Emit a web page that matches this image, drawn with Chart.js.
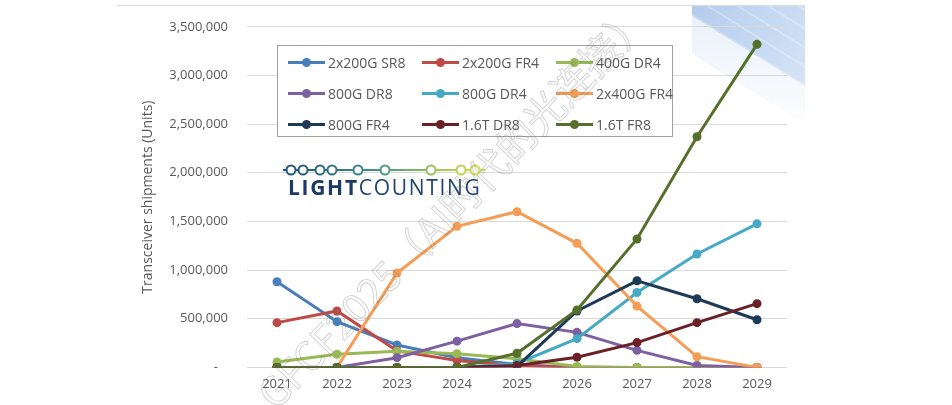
<!DOCTYPE html>
<html>
<head>
<meta charset="utf-8">
<script src="https://cdn.jsdelivr.net/npm/chart.js@4.4.1/dist/chart.umd.min.js"></script>
<style>
  html, body { margin: 0; padding: 0; background: #fff; }
  #wrap { position: relative; width: 952px; height: 405px; overflow: hidden; font-family: "Open Sans", sans-serif; }
  #chart { position: absolute; left: 0; top: 0; }
  .topline { position: absolute; left: 117px; top: 5px; width: 688px; height: 0; border-top: 1px solid #dcdcdc; }
  .product { position: absolute; left: 690px; top: 6px; width: 115px; height: 82px;
    clip-path: polygon(2px 0, 115px 0, 115px 80px, 2px 10px);
    background:
      repeating-linear-gradient(32deg, rgba(255,255,255,0) 0 14px, rgba(255,255,255,0.25) 14px 16px),
      linear-gradient(122deg, #b3cbeb 0%, #c3d7f1 45%, #d5e3f6 100%); }
  .shade { position: absolute; left: 690px; top: 14px; width: 115px; height: 110px;
    clip-path: polygon(2px 0, 115px 70px, 115px 110px, 2px 40px);
    background: linear-gradient(180deg, rgba(225,235,247,0.7), rgba(245,249,253,0.3)); }
  #legend { position: absolute; left: 277px; top: 45px; width: 396px; height: 92px; border: 1px solid #a0a0a0; background: #fff;
    display: grid; grid-template-columns: 134px 134px 128px; grid-auto-rows: 31px; padding: 1px 0 0 10px; box-sizing: border-box; }
  .li { display: flex; align-items: center; font-size: 14px; color: #595959; white-space: nowrap; }
  .mk { position: relative; width: 37px; height: 3px; margin-right: 3px; }
  .mk i { position: absolute; left: 14px; top: -3px; width: 9px; height: 9px; border-radius: 50%; }
  #logo { position: absolute; left: 281px; top: 161px; }
  #logo svg { position: absolute; left: 0; top: 0; }
  #logo .word { position: absolute; left: 7px; top: 12px; font-size: 21px; letter-spacing: 1.7px; color: #1f4470; white-space: nowrap; }
  #logo .word b { font-weight: 700; color: #1b3a66; }
  #wm { position: absolute; left: 452px; top: 205px; transform: translate(-50%, -50%) rotate(-46deg);
    font-family: "Noto Sans CJK SC", sans-serif; font-size: 40px; white-space: nowrap; color: transparent;
    -webkit-text-stroke: 1px rgba(110,110,110,0.3); }
</style>
</head>
<body>
<div id="wrap">
  <div class="topline"></div>
  <div class="shade"></div>
  <div class="product"></div>
  <canvas id="chart" width="952" height="405"></canvas>
  <div id="legend"></div>
  <div id="logo">
    <svg width="210" height="20" viewBox="0 0 210 20">
      <defs>
        <linearGradient id="lg" gradientUnits="userSpaceOnUse" x1="0" y1="0" x2="205" y2="0">
          <stop offset="0" stop-color="#1f4e79"/>
          <stop offset="0.45" stop-color="#3f8f8a"/>
          <stop offset="0.75" stop-color="#9cc35a"/>
          <stop offset="1" stop-color="#d8e44a"/>
        </linearGradient>
      </defs>
      <line x1="2" y1="9" x2="204" y2="9" stroke="url(#lg)" stroke-width="2"/>
      <g fill="#fff" stroke="url(#lg)" stroke-width="2">
        <circle cx="10" cy="9" r="4.5"/><circle cx="22" cy="9" r="4.5"/><circle cx="39" cy="9" r="4.5"/>
        <circle cx="51" cy="9" r="4.5"/><circle cx="77" cy="9" r="4.5"/><circle cx="104" cy="9" r="4.5"/>
        <circle cx="150" cy="9" r="4.5"/><circle cx="180" cy="9" r="4.5"/><circle cx="194" cy="9" r="4.5"/>
      </g>
    </svg>
    <div class="word"><b>LIGHT</b>COUNTING</div>
  </div>
  <div id="wm">GFCF2025（AI时代的光连接）</div>
</div>
<script>
// Transceiver shipments by module type, 2021-2029 (units)
const years = ['2021', '2022', '2023', '2024', '2025', '2026', '2027', '2028', '2029'];

const seriesNames  = ['2x200G SR8', '2x200G FR4', '400G DR4', '800G DR8', '800G DR4', '2x400G FR4', '800G FR4', '1.6T DR8', '1.6T FR8'];
const seriesColors = ['#4a7ebb', '#be4b48', '#98b954', '#7d60a0', '#46aac5', '#f59d56', '#1d3a56', '#6a2027', '#56702b'];

const sr8_2x200 = [880000, 470000, 230000, 100000, 30000, 0, 0, 0, 0];
const fr4_2x200 = [460000, 580000, 170000, 70000, 20000, 0, 0, 0, 0];
const dr4_400   = [55000, 135000, 165000, 140000, 90000, 10000, 0, 0, 0];
const dr8_800   = [0, 0, 100000, 270000, 450000, 360000, 175000, 20000, 0];
const dr4_800   = [0, 0, 0, 0, 40000, 295000, 770000, 1165000, 1475000];
const fr4_2x400 = [0, 0, 970000, 1450000, 1600000, 1275000, 630000, 110000, 0];
const fr4_800   = [0, 0, 0, 0, 10000, 580000, 890000, 705000, 490000];
const dr8_1600  = [0, 0, 0, 0, 20000, 105000, 255000, 460000, 655000];
const fr8_1600  = [0, 0, 0, 0, 145000, 590000, 1320000, 2370000, 3320000];

const seriesValues = [sr8_2x200, fr4_2x200, dr4_400, dr8_800, dr4_800, fr4_2x400, fr4_800, dr8_1600, fr8_1600];

const yTicks = [0, 500000, 1000000, 1500000, 2000000, 2500000, 3000000, 3500000];

const txt = '#595959';

// ── Legend (HTML, inside the plot) ─────────────────────────
document.getElementById('legend').innerHTML = seriesNames.map((n, i) => `
  <div class="li"><span class="mk" style="background:${seriesColors[i]}"><i style="background:${seriesColors[i]}"></i></span>${n}</div>`).join('');

// ── Chart ──────────────────────────────────────────────────
new Chart(document.getElementById('chart'), {
  type: 'line',
  data: {
    labels: years,
    datasets: seriesNames.map((n, i) => ({
      label: n,
      data: seriesValues[i],
      borderColor: seriesColors[i],
      backgroundColor: seriesColors[i],
      borderWidth: 3,
      pointRadius: 4.5,
      pointBorderWidth: 0,
      tension: 0,
      order: seriesNames.length - i
    }))
  },
  options: {
    responsive: false,
    animation: false,
    layout: { padding: { left: 140, right: 165, top: 21, bottom: 12 } },
    plugins: { legend: { display: false }, tooltip: { enabled: false } },
    scales: {
      x: {
        offset: true,
        grid: { display: false },
        border: { display: false },
        ticks: { color: txt, font: { family: 'Open Sans', size: 13 }, padding: 1 }
      },
      y: {
        min: 0, max: 3500000,
        afterBuildTicks: s => { s.ticks = yTicks.map(v => ({ value: v })); },
        afterFit: s => { s.width = 107; },
        grid: { color: '#d9d9d9', lineWidth: 1, drawTicks: false },
        border: { display: false },
        ticks: {
          color: txt, font: { family: 'Open Sans', size: 13 }, padding: 19,
          callback: v => v === 0 ? '-\u00a0\u00a0\u00a0' : v.toLocaleString('en-US')
        },
        title: { display: true, text: 'Transceiver shipments (Units)', color: txt,
          font: { family: 'Open Sans', size: 14 }, padding: { top: 0, bottom: 0 } }
      }
    }
  }
});
</script>
</body>
</html>
